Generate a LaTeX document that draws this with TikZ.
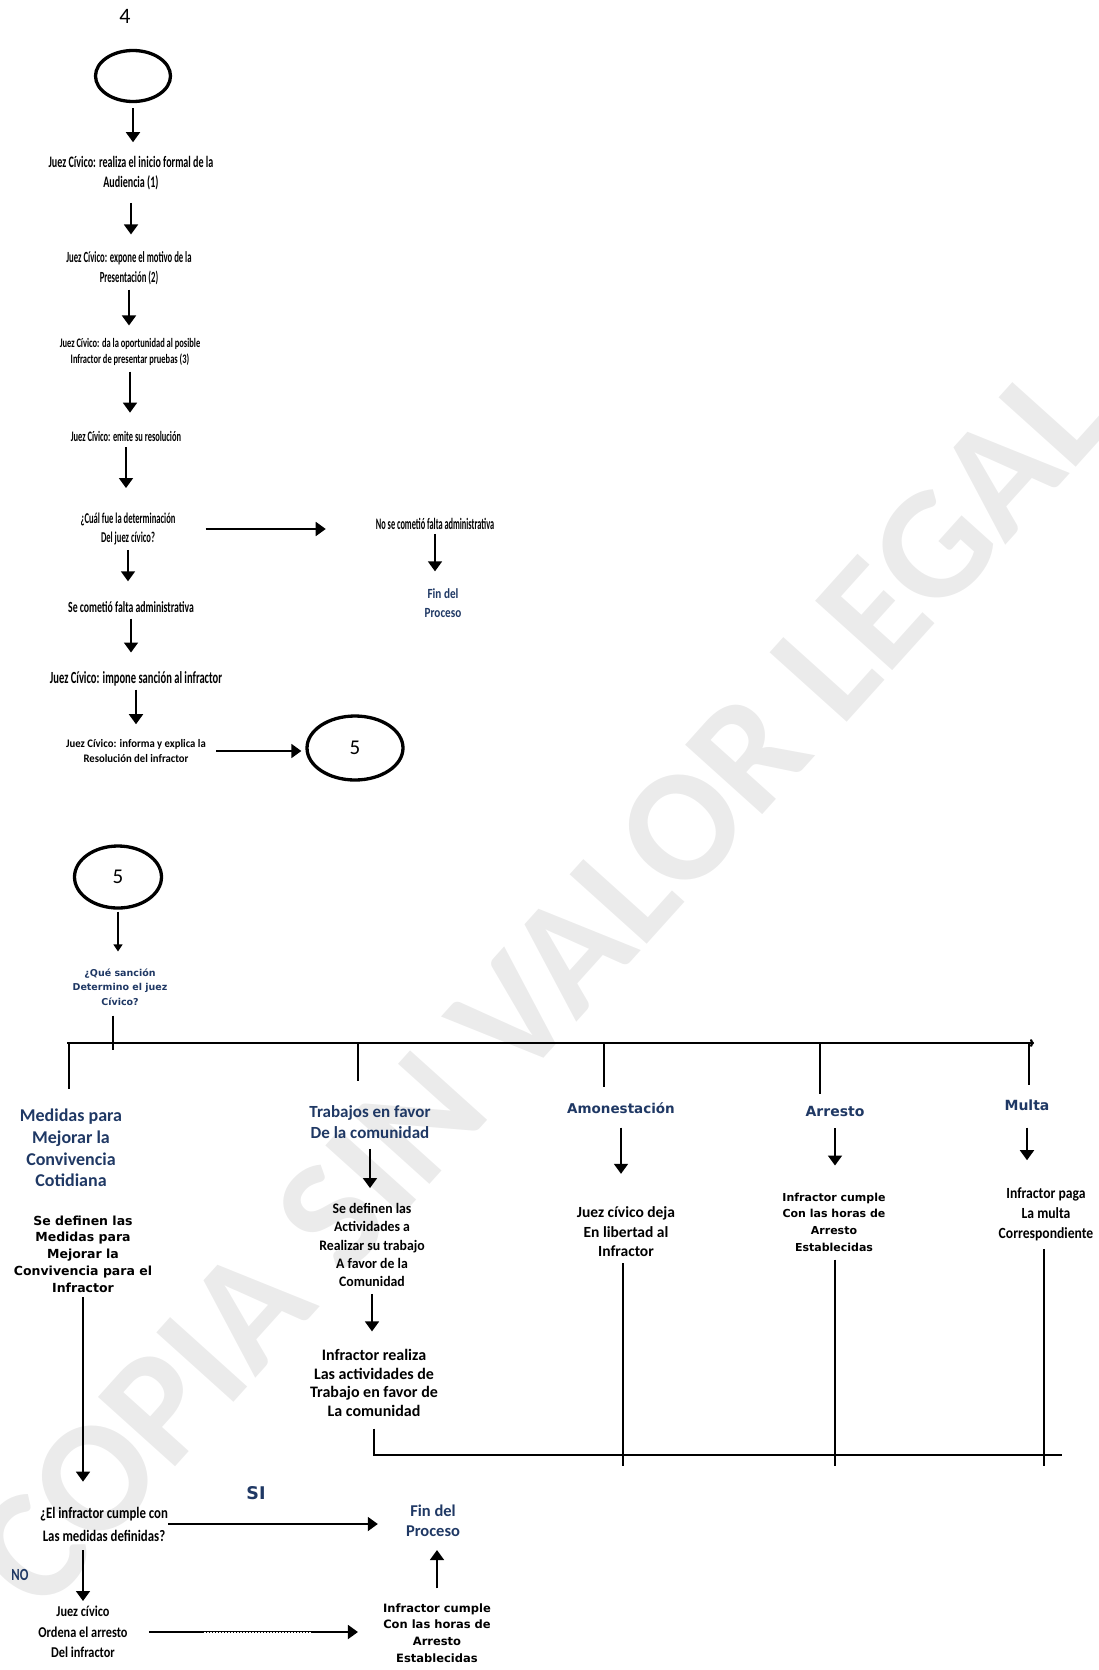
\documentclass[tikz,border=0pt]{standalone}
\usepackage{fontspec}
\setmainfont{Carlito}
\newfontfamily\verdfont{DejaVu Sans}
\usetikzlibrary{arrows.meta,shapes.geometric}
\definecolor{navy}{RGB}{31,56,100}
\newcommand{\fsz}[2]{\fontsize{#1}{#2}\selectfont}

\tikzset{
  txt/.style 2 args={align=center, inner sep=0pt, font=\bfseries\fsz{#1}{#2}},
  htxt/.style 2 args={txt={#1}{#2}, text=navy},
  vtxt/.style 2 args={align=center, inner sep=0pt, font=\verdfont\bfseries\fsz{#1}{#2}},
  vhtxt/.style 2 args={vtxt={#1}{#2}, text=navy},
  oval/.style={draw, ellipse, line width=3.3pt, inner sep=0pt, font=\fsz{21}{24}},
  arr/.style={line width=1.8pt, -{Triangle[length=10pt,width=14pt]}},
  thin arr/.style={line width=1.2pt, -{Triangle[length=7pt,width=9pt]}},
  bar/.style={line width=2.2pt},
  wmark/.style={rotate=48, text=black!8, inner sep=0pt, font=\bfseries\fsz{160}{160}}
}

\begin{document}
\begin{tikzpicture}[x=1pt,y=-1pt]
\useasboundingbox (0,0) rectangle (1099,1670);

\node [wmark] (wm) at (540,985) {COPIA SIN VALOR LEGAL};

% hoja 4
\node [font=\fsz{22}{24}] (p4) at (125,16) {4};
\node [oval, minimum width=75pt, minimum height=51pt] (c4) at (133,76) {};
\node [txt={16}{19.5}, xscale=0.63] (t1) at (131,173) {Juez Cívico: realiza el inicio formal de la \\ Audiencia (1)};
\node [txt={15.5}{19.5}, xscale=0.56] (t2) at (129,268) {Juez Cívico: expone el motivo de la \\ Presentación (2)};
\node [txt={13}{15.5}, xscale=0.65] (t3) at (130,352) {Juez Cívico: da la oportunidad al posible \\ Infractor de presentar pruebas (3)};
\node [txt={14.5}{17}, xscale=0.58] (t4) at (126,436) {Juez Cívico: emite su resolución};
\node [txt={15}{18.5}, xscale=0.57] (t5) at (128,529) {¿Cuál fue la determinación \\ Del juez cívico?};
\node [txt={16}{19}, xscale=0.52] (t6) at (435,524) {No se cometió falta administrativa};
\node [htxt={14}{19}, xscale=0.8] (fin1) at (443,603) {Fin del \\ Proceso};
\node [txt={15.5}{19}, xscale=0.63] (t7) at (131,607) {Se cometió falta administrativa};
\node [txt={17}{20}, xscale=0.62] (t8) at (136,679) {Juez Cívico: impone sanción al infractor};
\node [txt={11.5}{15}, xscale=0.93] (t9) at (136,751) {Juez Cívico: informa y explica la \\ Resolución del infractor};
\node [oval, minimum width=96pt, minimum height=64pt] (c5) at (355,748) {5};

\draw [arr, shorten <=5pt, shorten >=14pt] (c4.south) -- (c4.south |- t1.north);
\draw [arr, shorten <=13pt, shorten >=17pt] (t1.south) -- (t1.south |- t2.north);
\draw [arr, shorten <=5pt, shorten >=13pt] (t2.south) -- (t2.south |- t3.north);
\draw [arr, shorten <=6pt, shorten >=18pt] (t3.south) -- (t3.south |- t4.north);
\draw [arr, shorten <=6pt, shorten >=25pt] (t4.south) -- (t4.south |- t5.north);
\draw [arr, shorten <=5pt, shorten >=20pt] (t5.south) -- (t5.south |- t7.north);
\draw [arr, shorten <=6pt, shorten >=19pt] (t7.south) -- (t7.south |- t8.north);
\draw [arr, shorten <=3pt, shorten >=15pt] (t8.south) -- (t8.south |- t9.north);
\draw [arr, shorten <=30pt, shorten >=50pt] (t5.east) -- (t5.east -| t6.west);
\draw [arr, shorten <=4pt, shorten >=17pt] (t6.south) -- (t6.south |- fin1.north);
\draw [arr, shorten <=10pt, shorten >=4pt] (t9.east) -- (t9.east -| c5.west);

% hoja 5
\node [oval, minimum width=87pt, minimum height=62pt] (c5b) at (118,877) {5};
\node [vhtxt={9.5}{14.5}] (q1) at (120,987) {¿Qué sanción \\ Determino el juez \\ Cívico?};
\coordinate (bL) at (67,1043);
\coordinate (bR) at (1034,1043);
\coordinate (stub) at (113,1050);
\coordinate (b1) at (69,1043);
\coordinate (b2) at (358,1043);
\coordinate (b3) at (604,1043);
\coordinate (b4) at (820,1043);
\coordinate (b5) at (1029,1043);

\node [htxt={18}{21.7}] (h1) at (71,1148) {Medidas para \\ Mejorar la \\ Convivencia \\ Cotidiana};
\node [htxt={17}{21.5}] (h2) at (370,1122) {Trabajos en favor \\ De la comunidad};
\node [vhtxt={13.5}{16}] (h3) at (621,1108) {Amonestación};
\node [vhtxt={14}{16}] (h4) at (835,1111) {Arresto};
\node [vhtxt={14}{16}] (h5) at (1027,1105) {Multa};

\node [vtxt={12.5}{16.7}] (s1) at (83,1254) {Se definen las \\ Medidas para \\ Mejorar la \\ Convivencia para el \\ Infractor};
\node [txt={14.5}{18.3}, xscale=0.95] (s2) at (372,1245) {Se definen las \\ Actividades a \\ Realizar su trabajo \\ A favor de la \\ Comunidad};
\node [txt={16}{18.5}] (s2b) at (374,1383) {Infractor realiza \\ Las actividades de \\ Trabajo en favor de \\ La comunidad};
\node [txt={15.5}{19.5}] (s3) at (626,1232) {Juez cívico deja \\ En libertad al \\ Infractor};
\node [vtxt={11}{16.7}] (s4) at (834,1222) {Infractor cumple \\ Con las horas de \\ Arresto \\ Establecidas};
\node [txt={15.5}{20}, xscale=0.88] (s5) at (1046,1214) {Infractor paga \\ La multa \\ Correspondiente};

\coordinate (bbR) at (1062,1455);
\coordinate (e3) at (623,1466);
\coordinate (e4) at (835,1466);
\coordinate (e5) at (1044,1466);

\node [txt={16}{23}, xscale=0.8] (b1q) at (104,1524) {¿El infractor cumple con \\ Las medidas definidas?};
\node [vhtxt={17.5}{20}] (si) at (256,1493) {SI};
\node [htxt={17}{19}, xscale=0.75] (no) at (20,1575) {NO};
\node [htxt={16.5}{20}] (fin2) at (433,1521) {Fin del \\ Proceso};
\node [txt={15}{20.5}, xscale=0.82] (ord) at (83,1632) {Juez cívico \\ Ordena el arresto \\ Del infractor};
\node [vtxt={11.5}{16.7}] (cump2) at (437,1633) {Infractor cumple \\ Con las horas de \\ Arresto \\ Establecidas};

\draw [thin arr, shorten <=2pt, shorten >=17pt] (c5b.south) -- (c5b.south |- q1.north);
\draw [bar, shorten <=10pt] (q1.south -| stub) -- (stub);
\draw [bar, -{To[length=4pt,width=8pt]}] (bL) -- (bR);
\draw [bar, shorten >=20pt] (b1) -- (b1 |- h1.north);
\draw [bar, shorten >=24pt] (b2) -- (b2 |- h2.north);
\draw [bar, shorten >=15pt] (b3) -- (b3 |- h3.north);
\draw [bar, shorten >=12pt] (b4) -- (b4 |- h4.north);
\draw [bar, shorten >=14pt] (b5) -- (b5 |- h5.north);

\draw [arr, shorten <=10pt, shorten >=15pt] (h2.south) -- (h2.south |- s2.north);
\draw [arr, shorten <=7pt, shorten >=18pt] (s2.south) -- (s2.south |- s2b.north);
\draw [arr, shorten <=14pt, shorten >=33pt] (h3.south) -- (h3.south |- s3.north);
\draw [arr, shorten <=12pt, shorten >=27pt] (h4.south) -- (h4.south |- s4.north);
\draw [arr, shorten <=17pt, shorten >=27pt] (h5.south) -- (h5.south |- s5.north);
\draw [arr, shorten <=5pt, shorten >=25pt] (s1.south) -- (s1.south |- b1q.north);

\draw [bar, shorten <=12pt] (s2b.south) |- (bbR);
\draw [bar, shorten <=6pt] (s3.south -| e3) -- (e3);
\draw [bar, shorten <=8pt] (s4.south -| e4) -- (e4);
\draw [bar, shorten <=8pt] (s5.south -| e5) -- (e5);

\draw [arr, shorten >=28pt] (b1q.east) -- (b1q.east -| fin2.west);
\draw [arr, shorten <=9pt, shorten >=5pt] (ord.north |- b1q.south) -- (ord.north);
\draw [arr, shorten <=21pt, shorten >=25pt] (ord.east) -- (ord.east -| cump2.west);
\draw [white, line width=1pt, dash pattern=on 0.5pt off 1pt, shorten <=76pt, shorten >=72pt] (ord.east) -- (ord.east -| cump2.west);
\draw [arr, shorten <=15pt, shorten >=13pt] (cump2.north) -- (cump2.north |- fin2.south);
\end{tikzpicture}
\end{document}
